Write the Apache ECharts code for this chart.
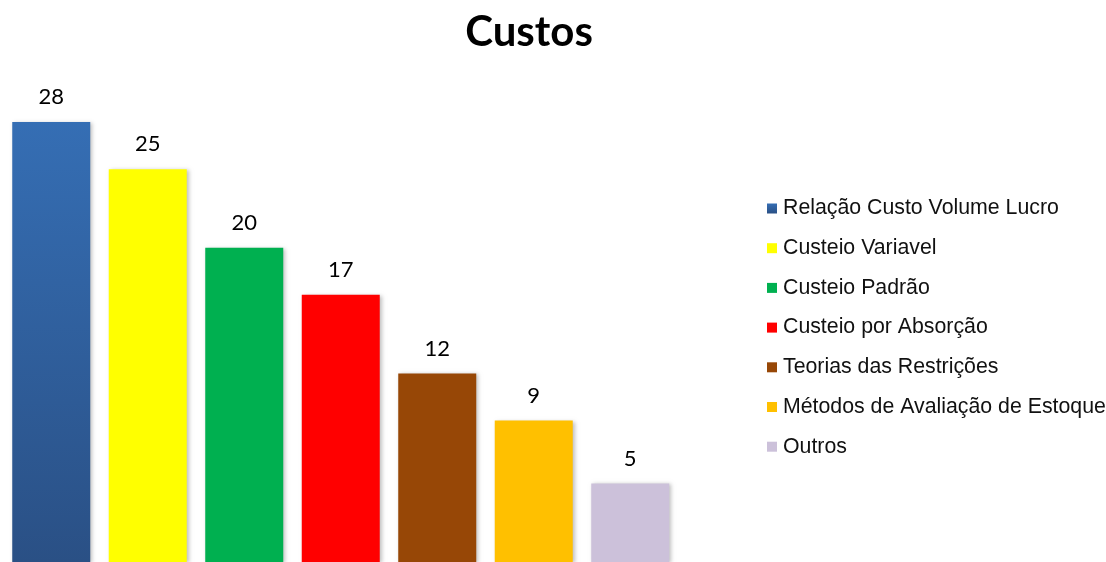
<!DOCTYPE html>
<html>
<head>
<meta charset="utf-8">
<script src="https://cdn.jsdelivr.net/npm/echarts@6/dist/echarts.min.js"></script>
<style>html,body{margin:0;padding:0;background:#fff}#c{width:1106px;height:562px}</style>
</head>
<body>
<div id="c"></div>
<script>
const categories = ['Relação Custo Volume Lucro','Custeio Variavel','Custeio Padrão','Custeio por Absorção','Teorias das Restrições','Métodos de Avaliação de Estoque','Outros'];
const values = [28, 25, 20, 17, 12, 9, 5];
const colors = [
  {type:'linear',x:0,y:0,x2:0,y2:1,colorStops:[{offset:0,color:'#356EB4'},{offset:1,color:'#2A5085'}]},
  '#FFFF00','#00B050','#FF0000','#974706','#FFC000','#CCC1DA'
];
const chart = echarts.init(document.getElementById('c'));
const series = categories.map((name, i) => ({
  name: name,
  type: 'bar',
  stack: 'all',
  barWidth: 78,
  data: values.map((v, j) => j === i ? v : '-'),
  itemStyle: {color: colors[i], shadowBlur: 4, shadowColor: 'rgba(0,0,0,0.25)', shadowOffsetX: 2, shadowOffsetY: 1},
  label: {show: true, position: 'top', distance: 14, fontFamily: 'Lato', fontSize: 22, color: '#000'}
}));
chart.setOption({
  animation: false,
  title: {text: 'Custos', left: 524, textAlign: 'center', top: 6,
    textStyle: {fontFamily: 'Lato', fontWeight: 'bold', fontSize: 42, color: '#000'}},
  legend: {orient: 'vertical', left: 762, top: 193, itemWidth: 10, itemHeight: 10, itemGap: 18.7,
    icon: 'rect', data: categories,
    itemStyle: {shadowBlur: 0, shadowOffsetX: 0, shadowOffsetY: 0},
    textStyle: {fontFamily: 'Liberation Sans', fontSize: 21.3, color: '#111', lineHeight: 20, padding: [0,0,0,1]}},
  grid: {left: 3, width: 675.5, top: 90.6, height: 471.4},
  xAxis: {type: 'category', data: categories, show: false},
  yAxis: {type: 'value', min: 0, max: 30, show: false},
  series: series
});
</script>
</body>
</html>
